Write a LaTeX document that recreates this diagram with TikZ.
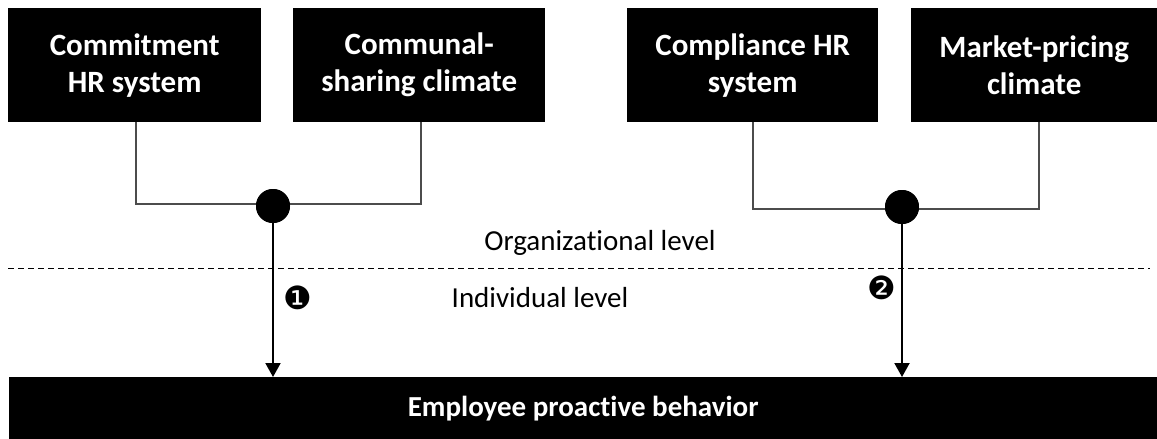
\documentclass[tikz,border=0pt]{standalone}
\usepackage{fontspec}
\setmainfont{Carlito}[Ligatures={NoCommon,NoRare,NoDiscretionary},Contextuals={NoAlternate}]
\newfontfamily\dvs{DejaVu Sans}
\usetikzlibrary{arrows.meta}
\begin{document}
\begin{tikzpicture}[x=1pt,y=-1pt,
  topbox/.style={fill=black,text=white,font=\fontsize{31}{37}\selectfont\bfseries,align=center,inner sep=0pt,anchor=north west},
  link/.style={draw=black!70,line width=1.3pt},
  flow/.style={draw=black,line width=2pt,-{Triangle[width=15pt,length=14pt]}},
  joint/.style={circle,fill=black,minimum size=34pt,inner sep=0pt},
  lvl/.style={font=\fontsize{29}{34}\selectfont},
  numtag/.style={font=\dvs\fontsize{32}{32}\selectfont,inner sep=0pt}
]
\useasboundingbox (0,0) rectangle (1157,439);
% top boxes
\node[topbox,minimum width=253pt,minimum height=114pt] (b1) at (8,8) {Commitment\\HR system};
\node[topbox,minimum width=252pt,minimum height=114pt] (b2) at (293,8) {Communal-\\sharing climate};
\node[topbox,minimum width=251pt,minimum height=114pt] (b3) at (627,8) {Compliance HR\\system};
\node[topbox,minimum width=246pt,minimum height=114pt] (b4) at (911,8) {Market-pricing\\climate};
% bottom box
\node[fill=black,text=white,font=\fontsize{29}{34}\selectfont\bfseries,inner sep=0pt,anchor=north west,minimum width=1148pt,minimum height=62pt] (out) at (9,377) {Employee proactive behavior};
% junctions
\coordinate (c1) at (273,206);
\coordinate (c2) at (902,207);
\coordinate (l1) at (136,204);
\coordinate (r1) at (421,204);
\coordinate (l2) at (753,209);
\coordinate (r2) at (1039,209);
\draw[link] (b1.south west -| l1) -- (l1) -- (r1) -- (b2.south west -| r1);
\draw[link] (b3.south west -| l2) -- (l2) -- (r2) -- (b4.south west -| r2);
\coordinate (dl) at (8,268);
\coordinate (dr) at (1150,268);
\draw[line width=1pt,dash pattern=on 6pt off 4pt] (dl) -- (dr);
\node[joint] (j1) at (c1) {};
\node[joint] (j2) at (c2) {};
\draw[flow] (j1.center) -- (j1.center |- out.north);
\draw[flow] (j2.center) -- (j2.center |- out.north);
\node[joint] at (c1) {};
\node[joint] at (c2) {};
% labels
\node[lvl] (org) at (600,243) {Organizational level};
\node[lvl] (ind) at (540,298) {Individual level};
\node[numtag] (m1) at (298,298) {❶};
\node[numtag] (m2) at (882,288) {❷};
\end{tikzpicture}
\end{document}
